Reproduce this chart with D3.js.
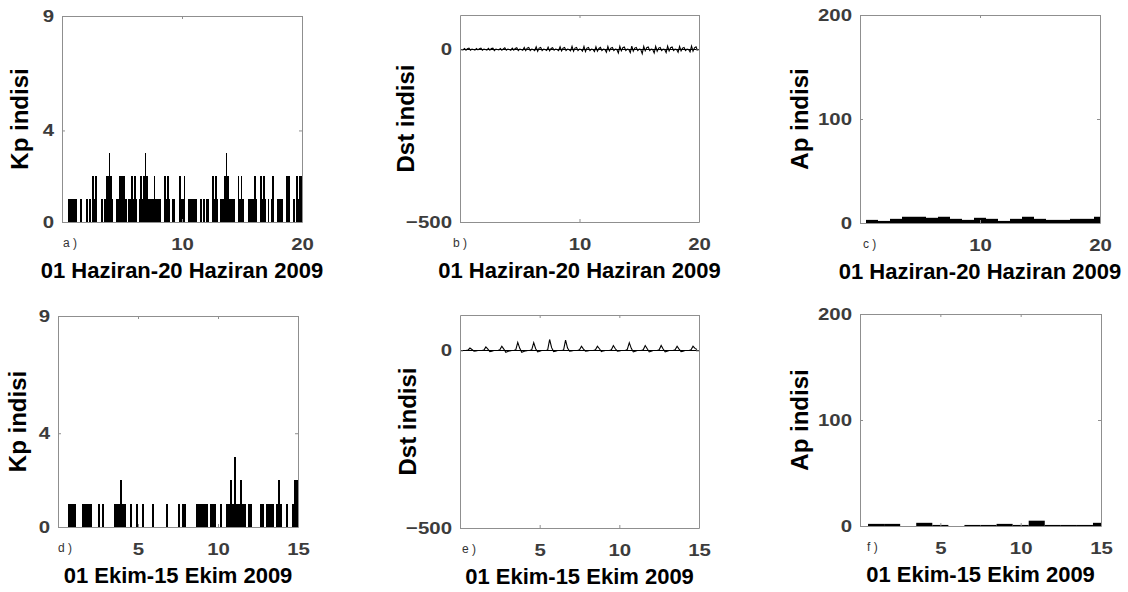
<!DOCTYPE html>
<html>
<head>
<meta charset="utf-8">
<script src="https://cdn.jsdelivr.net/npm/d3@7"></script>
<style>
  body { margin: 0; background: #fff; }
  svg text { font-family: "Liberation Sans", Arial, sans-serif; }
</style>
</head>
<body>
<script>
// Kp, 3-hourly (8 per day), starting at day 0
var kpJune = [
  0,0,0,0,1,1,1,1,  1,1,0,0,1,0,0,0,  1,0,1,0,2,1,2,0,  0,0,1,0,1,2,2,3,
  2,1,0,0,1,1,2,2,  2,2,1,0,1,1,2,1,  2,1,0,1,2,1,2,3,  2,1,1,1,1,2,1,1,
  1,1,0,0,2,1,2,1,  0,1,1,0,0,0,2,1,  1,2,0,0,1,1,1,1,  1,1,0,0,1,0,1,0,
  1,1,0,0,2,1,2,1,  0,1,1,1,2,3,2,1,  1,1,1,0,0,2,1,2,  1,0,0,0,1,1,1,1,
  2,1,0,0,2,1,2,1,  0,1,0,1,2,0,0,1,  1,1,1,0,0,2,2,2,  0,0,1,0,2,1,2,2
];
var kpOct = [
  0,0,0,0,0,1,1,1,  1,0,0,0,1,1,1,1,  1,0,0,0,1,0,1,0,  0,0,0,0,1,1,1,2,
  1,1,0,0,1,0,0,1,  0,0,1,0,0,0,0,1,  0,0,0,0,0,0,1,0,  0,0,0,0,1,0,1,1,
  0,0,0,0,0,1,1,1,  1,1,1,0,1,1,1,0,  0,1,0,0,1,1,2,1,  3,1,1,2,1,1,0,1,
  1,0,0,0,0,1,1,0,  1,1,1,1,0,1,2,1,  0,0,1,0,0,1,2,2
];

// Dst, 3-hourly (8 per day), starting at day 0
var dstJune = [
  0,0,-1,3,-2,2,4,-2,   1,0,-2,3,-1,2,4,-2,   1,0,-2,3,-2,3,4,-3,   1,0,-1,3,-2,2,5,-2,
  1,0,-2,4,-2,3,5,-3,   1,0,-2,6,-3,4,6,-3,   1,0,-3,8,-5,4,6,-3,   1,0,-3,7,-4,3,5,-2,
  1,0,-3,8,-4,4,6,-3,   1,0,-4,9,-5,4,6,-3,   1,0,-5,9,-6,4,6,-3,   1,0,-6,8,-5,3,6,-3,
  1,0,-8,9,-4,4,6,-3,   1,0,-10,9,-4,5,7,-3,  1,0,-9,10,-5,4,6,-3,  1,0,-12,9,-4,5,7,-3,
  1,0,-10,9,-5,4,6,-3,  1,0,-9,10,-4,5,7,-3,  1,0,-8,9,-4,4,6,-3,   1,0,-7,10,-5,5,8,-3
];
var dstOct = [
  0,0,0,0,1,7,3,-2,     -1,0,0,0,1,10,4,-3,   -2,0,0,0,2,12,4,-5,   -3,-1,0,0,2,23,6,-5,
  -3,-1,0,0,2,22,5,-4,  -2,0,0,0,1,31,8,-3,   -2,0,0,0,1,29,7,-2,   -1,0,0,0,2,12,4,-2,
  -1,0,0,0,2,12,5,-3,   -1,0,0,0,2,14,5,-2,   -1,0,0,0,3,22,6,-4,   -2,0,0,0,2,14,5,-4,
  -2,0,0,0,2,14,4,-4,   -2,0,0,0,2,12,4,-3,   -2,0,0,0,2,12,6,3
];

// Ap, daily (day 1..N)
var apJune = [3,2,4,6,6,5,6,4,3,5,4,2,4,6,4,3,3,4,4,6];
var apOct  = [2,2,0,3,1,0,1,1,2,1,5,1,1,1,3];

// ticks and labels
var kpTicks = [0,4,9], dstTicks = [-500,0], apTicks = [0,100,200];
var juneTicks = [10,20], octTicks = [5,10,15];
var juneTitle = "01 Haziran-20 Haziran 2009",
    octTitle  = "01 Ekim-15 Ekim 2009";

var W = 1128, H = 592;
var svg = d3.select("body").append("svg")
    .attr("width", W)
    .attr("height", H);

var panels = [
  { tag:"a )", kind:"kp",  data:kpJune,  days:20, yDom:[0,9],     yTicks:kpTicks,  xTicks:juneTicks, title:juneTitle, ylab:"Kp indisi",  box:[62,302,16,222],  ylabX:20,  tagX:63 },
  { tag:"b )", kind:"dst", data:dstJune, days:20, yDom:[-500,100], yTicks:dstTicks, xTicks:juneTicks, title:juneTitle, ylab:"Dst indisi", box:[460,699,15,222], ylabX:406, tagX:453 },
  { tag:"c )", kind:"ap",  data:apJune,  days:20, yDom:[0,200],   yTicks:apTicks,  xTicks:juneTicks, title:juneTitle, ylab:"Ap indisi",  box:[860,1100,15,223], ylabX:800, tagX:863 },
  { tag:"d )", kind:"kp",  data:kpOct,   days:15, yDom:[0,9],     yTicks:kpTicks,  xTicks:octTicks,  title:octTitle,  ylab:"Kp indisi",  box:[58,298,316,527], ylabX:18,  tagX:58 },
  { tag:"e )", kind:"dst", data:dstOct,  days:15, yDom:[-500,100], yTicks:dstTicks, xTicks:octTicks,  title:octTitle,  ylab:"Dst indisi", box:[460,699,315,528], ylabX:408, tagX:462 },
  { tag:"f )", kind:"ap",  data:apOct,   days:15, yDom:[0,200],   yTicks:apTicks,  xTicks:octTicks,  title:octTitle,  ylab:"Ap indisi",  box:[860,1101,314,526], ylabX:800, tagX:867 }
];

var tickCol = "#3c3c3c", boxCol = "#8f8f8f", stretch = 1.2;

panels.forEach(function(p, idx) {
  var x0 = p.box[0], x1 = p.box[1], y0 = p.box[2], y1 = p.box[3];
  var x = d3.scaleLinear().domain([0, p.days]).range([x0, x1]),
      y = d3.scaleLinear().domain(p.yDom).range([y1, y0]);

  var g = svg.append("g").attr("class", "panel");
  var clipId = "clip" + idx;
  g.append("clipPath").attr("id", clipId)
    .append("rect")
      .attr("x", x0).attr("y", y0)
      .attr("width", x1 - x0).attr("height", y1 - y0);

  var plot = g.append("g").attr("clip-path", "url(#" + clipId + ")");

  if (p.kind === "kp") {
    var slot = 1/8;
    plot.selectAll("rect.kp")
      .data(p.data.map(function(v, i) { return { t: i*slot, v: v }; })
                  .filter(function(d) { return d.v > 0; }))
      .enter().append("rect")
        .attr("class", "kp")
        .attr("x", function(d) { return x(d.t); })
        .attr("width", x(slot) - x(0))
        .attr("y", function(d) { return y(d.v); })
        .attr("height", function(d) { return y(0) - y(d.v); })
        .attr("fill", "#000")
        .attr("shape-rendering", "crispEdges");
  } else if (p.kind === "ap") {
    plot.selectAll("rect.ap")
      .data(p.data)
      .enter().append("rect")
        .attr("class", "ap")
        .attr("x", function(d, i) { return x(i + 0.5); })
        .attr("width", x(1) - x(0))
        .attr("y", function(d) { return y(d); })
        .attr("height", function(d) { return y(0) - y(d); })
        .attr("fill", "#000");
  } else {
    plot.append("line")
      .attr("x1", x0).attr("x2", x1)
      .attr("y1", y(0)).attr("y2", y(0))
      .attr("stroke", "#000").attr("stroke-width", 1);
    var line = d3.line()
      .x(function(d, i) { return x(i/8); })
      .y(function(d) { return y(d); });
    plot.append("path")
      .datum(p.data)
      .attr("d", line)
      .attr("fill", "none")
      .attr("stroke", "#000")
      .attr("stroke-width", 1.1);
  }

  // axes, MATLAB style: box with inward ticks
  var axL = g.append("g").attr("transform", "translate(" + x0 + ",0)")
    .call(d3.axisLeft(y).tickValues(p.yTicks).tickSize(-3).tickSizeOuter(0).tickPadding(8));
  var axR = g.append("g").attr("transform", "translate(" + x1 + ",0)")
    .call(d3.axisRight(y).tickValues(p.yTicks).tickSize(-3).tickSizeOuter(0).tickFormat(""));
  var axB = g.append("g").attr("transform", "translate(0," + y1 + ")")
    .call(d3.axisBottom(x).tickValues(p.xTicks).tickSize(-3).tickSizeOuter(0).tickPadding(16));
  var axT = g.append("g").attr("transform", "translate(0," + y0 + ")")
    .call(d3.axisTop(x).tickValues(p.xTicks).tickSize(-3).tickSizeOuter(0).tickFormat(""));

  [axL, axR, axB, axT].forEach(function(a) {
    a.select(".domain").attr("stroke", boxCol);
    a.selectAll(".tick line").attr("stroke", boxCol);
    a.selectAll(".tick text")
      .attr("fill", tickCol)
      .style("font-size", "17px")
      .style("font-weight", "bold")
      .attr("x", function() { return (+d3.select(this).attr("x") || 0) / stretch; })
      .attr("transform", "scale(" + stretch + ",1)");
  });

  // panel tag
  g.append("text")
    .attr("x", p.tagX)
    .attr("y", y1 + 25)
    .attr("fill", "#333")
    .style("font-size", "12px")
    .text(p.tag);

  // x title
  g.append("text")
    .attr("x", (x0 + x1) / 2)
    .attr("y", y1 + 56)
    .attr("text-anchor", "middle")
    .attr("fill", "#000")
    .style("font-size", "22px")
    .style("font-weight", "bold")
    .text(p.title);

  // y title
  g.append("text")
    .attr("transform", "translate(" + (p.ylabX + 8) + "," + ((y0 + y1) / 2) + ") rotate(-90)")
    .attr("text-anchor", "middle")
    .attr("fill", "#000")
    .style("font-size", "24px")
    .style("font-weight", "bold")
    .text(p.ylab);
});
</script>
</body>
</html>
